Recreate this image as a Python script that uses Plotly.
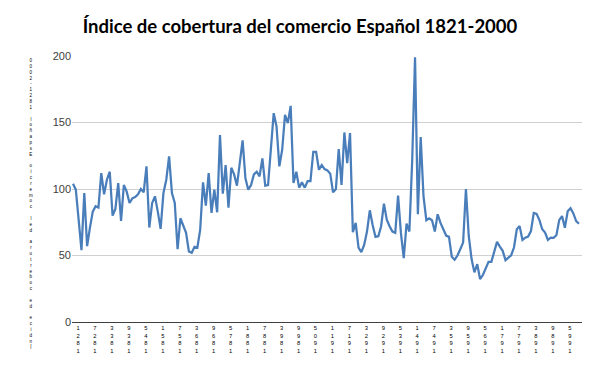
import plotly.graph_objects as go

title_text = "Índice de cobertura del comercio Español 1821-2000"

years = list(range(1821, 2001))
indice = [
    104, 99.5, 77, 54, 97, 57, 71, 83, 87, 86,
    112, 96, 107, 113, 80, 85, 104.5, 76, 103, 98,
    89.5, 93, 94, 96, 100, 97.5, 117, 71, 89.5, 94.5,
    83, 70, 97, 107, 124.5, 97, 89.5, 54.7, 78, 73,
    67, 53, 52, 56.6, 56, 69.5, 105, 87.5, 112, 82,
    99.5, 82.5, 140.5, 96.5, 118, 86, 116, 111, 102.5, 119.5,
    136.5, 108, 99.5, 103, 111, 113, 109.5, 123, 102.5, 103,
    129.5, 157, 147, 117, 129.5, 155.7, 149.5, 162.5, 104.5, 113,
    101, 105, 101, 106, 106, 128, 128, 114.5, 118, 115,
    114, 111.5, 97.5, 100, 130, 103, 142.5, 119.5, 142, 67.5,
    74.5, 56, 52.5, 58, 68, 84, 73, 64, 64.5, 72,
    89, 77, 72, 68, 67, 95, 67, 48, 74, 68,
    122, 199, 81, 139, 94.5, 76.5, 78, 76.5, 68, 81,
    74.5, 69.5, 65, 64, 49, 46.8, 50, 54.7, 59.7, 100,
    64.7, 47.3, 37.3, 43.5, 32.3, 35.3, 40.3, 45.3, 45.3, 52.2,
    60.2, 56.7, 53.5, 46.5, 48.5, 50.2, 56, 69.7, 72.1, 61.7,
    63.4, 64.2, 68.4, 82, 81.3, 76.6, 69.7, 67.2, 61.7, 63.4,
    63.2, 65.2, 76.6, 79.6, 70.9, 83.3, 85.6, 81.6, 75.9, 73.9,
]

tick_years = years[::6]
tick_labels = ["<br>".join(reversed(str(y))) for y in tick_years]
y_ticks = [0, 50, 100, 150, 200]
y_title_stacked = "<br>".join(reversed(title_text))

W, H = 592, 363  # page body has an 8px margin

fig = go.Figure()
fig.add_trace(go.Scatter(
    x=years, y=indice, mode="lines",
    line=dict(color="#4A7EBB", width=2.25),
    hoverinfo="x+y", showlegend=False,
))

fig.update_layout(
    width=W, height=H,
    margin=dict(l=64, r=18, t=48, b=49, autoexpand=False),
    paper_bgcolor="white", plot_bgcolor="white",
    title=dict(text="<b>" + title_text + "</b>", x=292 / W, xref="container", xanchor="center",
               y=1 - 19 / H, yanchor="middle",
               font=dict(family="Lato, Liberation Sans, sans-serif", size=18.5, color="#000000")),
    xaxis=dict(
        range=[1820.65, 2001.06], automargin=False,
        tickmode="array", tickvals=tick_years, ticktext=tick_labels,
        tickangle=0, ticklabelshift=5,
        tickfont=dict(family="Liberation Sans, Arial, sans-serif", size=5.8, color="#000000"),
        showgrid=False, zeroline=False,
        showline=True, linecolor="#404040", linewidth=1,
        ticks="", ticklen=0,
    ),
    yaxis=dict(
        range=[0, 200], automargin=False,
        tickmode="array", tickvals=y_ticks,
        tickfont=dict(family="Liberation Sans, Arial, sans-serif", size=11, color="#404040"),
        showgrid=True, gridcolor="#D0D0D0", gridwidth=1,
        zeroline=False, showline=False, ticks="",
    ),
    annotations=[dict(
        text=y_title_stacked, xref="paper", yref="paper",
        x=(22.5 - 64) / 510, y=1.0, xanchor="center", yanchor="top",
        showarrow=False,
        font=dict(family="Liberation Sans, Arial, sans-serif", size=4.5, color="#000000"),
    )],
)

fig.write_html("out.html")
